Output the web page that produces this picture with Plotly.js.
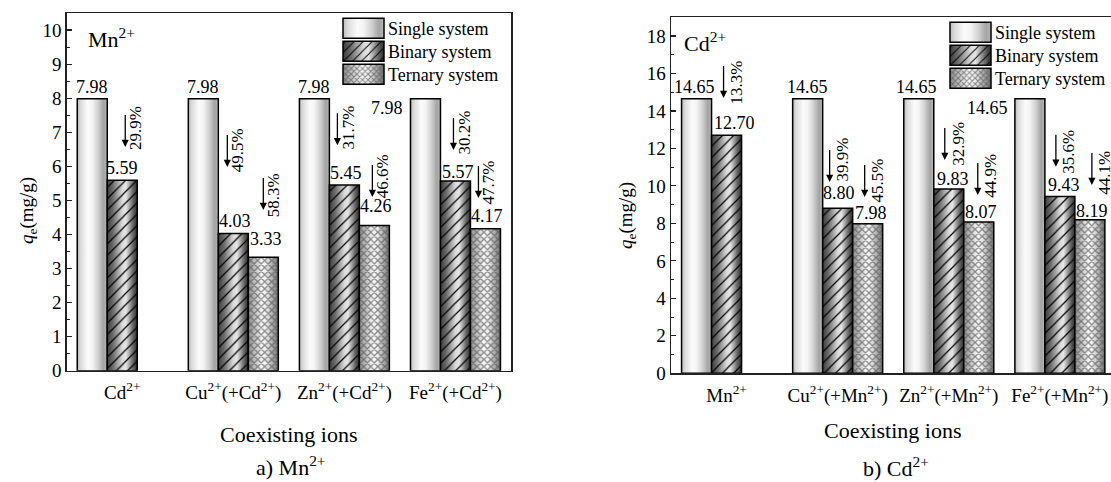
<!DOCTYPE html>
<html><head><meta charset="utf-8">
<script src="https://cdn.plot.ly/plotly-3.0.1.min.js"></script>
<style>html,body{margin:0;padding:0;background:#fff;overflow:hidden}#chart{width:1111px;height:482px}</style>
</head><body><div id="chart"></div>
<script>
// ---------- data ----------
const seriesNames = ['Single system', 'Binary system', 'Ternary system'];

const catsMn = ['Cd<sup>2+</sup>', 'Cu<sup>2+</sup>(+Cd<sup>2+</sup>)', 'Zn<sup>2+</sup>(+Cd<sup>2+</sup>)', 'Fe<sup>2+</sup>(+Cd<sup>2+</sup>)'];
const singleMn  = [7.98, 7.98, 7.98, 7.98];
const binaryMn  = [5.59, 4.03, 5.45, 5.57];
const ternaryMn = [null, 3.33, 4.26, 4.17];
const dropBinMn = ['29.9%', '49.5%', '31.7%', '30.2%'];
const dropTerMn = [null, '58.3%', '46.6%', '47.7%'];

const catsCd = ['Mn<sup>2+</sup>', 'Cu<sup>2+</sup>(+Mn<sup>2+</sup>)', 'Zn<sup>2+</sup>(+Mn<sup>2+</sup>)', 'Fe<sup>2+</sup>(+Mn<sup>2+</sup>)'];
const singleCd  = [14.65, 14.65, 14.65, 14.65];
const binaryCd  = [12.70, 8.80, 9.83, 9.43];
const ternaryCd = [null, 7.98, 8.07, 8.19];
const dropBinCd = ['13.3%', '39.9%', '32.9%', '35.6%'];
const dropTerCd = [null, '45.5%', '44.9%', '44.1%'];

// ---------- layout helpers (positions, not data) ----------
const W = 1111, H = 482;
const F = '"Liberation Serif","Times New Roman",serif';
const px = x => x / W, py = y => 1 - y / H;
const OFF = [-0.27, 0, 0.27];           // slot offsets of the grouped bars
// arrow-head heights (axis units) and pixel nudges for the drop annotations
const arrowMn = {bin: [6.57, 5.98, 6.62, 6.48], ter: [null, 4.72, 5.10, 5.07],
                 binDx: [3, -6, -7, -2], terDx: [0, 0, -2, -7], ty: [[19,17,18,18],[0,15,21,16]]};
const arrowCd = {bin: [14.69, 10.21, 11.38, 11.02], ter: [null, 9.41, 9.52, 10.05],
                 binDx: [-3, -8, -4, -4], terDx: [0, -3, -1, 2], ty: [[15,22,16,15],[0,16,19,12]]};
const nudgeMn = {dx: [[0,0,0,0],[0,2,2,3],[0,3,2,2]], dy: [[0,0,0,0],[0,0,0,-3],[0,6,8,1]]};
const nudgeCd = {dx: [[-2,0,-2,0],[8,1,4,4],[0,3,2,2]], dy: [[0,0,0,0],[0,3,-2,0],[0,-1,-2,-3]]};

function bars(vals, cats, xa, ya, lg) {
  const st = [
    {color: '#e8e8e8'},
    {color: 'rgba(0,0,0,0)', pattern: {shape: '/', size: 8, solidity: 0.15, fgcolor: '#000', bgcolor: 'rgba(0,0,0,0)'}},
    {color: 'rgba(0,0,0,0)', pattern: {shape: 'x', size: 5, solidity: 0.45, fgcolor: '#5a5a5a', fgopacity: 0.7, bgcolor: 'rgba(0,0,0,0)'}}
  ];
  return vals.map((v, k) => ({
    type: 'bar', name: seriesNames[k], x: cats, y: v, xaxis: xa, yaxis: ya, legend: lg,
    marker: Object.assign({line: {color: '#000', width: 1.5}}, st[k]), hoverinfo: 'skip'
  }));
}

function labels(vals, drops, arrows, nudge, xr, yr, fsz) {
  const out = [];
  vals.forEach((arr, k) => arr.forEach((v, i) => {
    if (v === null) return;
    const txt = v.toFixed(2);
    if (k === 0 && i === 3) {
      out.push({xref: xr, yref: yr, x: i + OFF[0] - 0.135, y: v, text: txt, showarrow: false,
        xanchor: 'right', yanchor: 'middle', xshift: -5, yshift: -9, font: {family: F, size: 18, color: '#000'}});
    } else {
      out.push({xref: xr, yref: yr, x: i + OFF[k], y: v, text: txt, showarrow: false,
        xanchor: 'center', yanchor: 'bottom', xshift: nudge.dx[k][i], yshift: nudge.dy[k][i],
        font: {family: F, size: 18, color: '#000'}});
    }
  }));
  [['bin', 1, drops[0], 0], ['ter', 2, drops[1], 1]].forEach(([key, k, d, r]) => d.forEach((t, i) => {
    if (t === null) return;
    const hy = arrows[key][i], dx = arrows[key + 'Dx'][i];
    // arrow: tail box is a single space (tiny), so ay is lengthened by its half height
    out.push({xref: xr, yref: yr, x: i + OFF[k], y: hy, text: ' ', showarrow: true, ax: 0, ay: -38,
      font: {family: F, size: 10, color: '#000'}, borderpad: 0,
      xshift: dx, arrowhead: 2, arrowsize: 1.1, arrowwidth: 1.3, arrowcolor: '#000', standoff: 0, startstandoff: 0});
    out.push({xref: xr, yref: yr, x: i + OFF[k], y: hy, text: t, showarrow: false, textangle: -90,
      xanchor: 'center', yanchor: 'middle', xshift: dx + fsz, yshift: arrows.ty[r][i],
      font: {family: F, size: 17, color: '#000'}});
  }));
  return out;
}

const data = [].concat(
  bars([singleMn, binaryMn, ternaryMn], catsMn, 'x', 'y', 'legend'),
  bars([singleCd, binaryCd, ternaryCd], catsCd, 'x2', 'y2', 'legend2')
);

const axFont = {family: F, size: 19, color: '#000'};
const xCommon = {type: 'category', showline: true, linecolor: '#222', linewidth: 1.5, ticks: '',
  tickfont: axFont, showgrid: false, zeroline: false, fixedrange: true};
const yCommon = {ticks: 'inside', ticklen: 5, tickwidth: 1.2, tickcolor: '#222', showline: true,
  linecolor: '#222', linewidth: 1.5, showgrid: false, zeroline: false, tickfont: axFont, fixedrange: true};

const txt = (x, y, text, size, extra) => Object.assign({xref: 'paper', yref: 'paper', x: px(x), y: py(y),
  text: text, showarrow: false, font: {family: F, size: size, color: '#000'}, xanchor: 'center', yanchor: 'middle'}, extra || {});

const legendCommon = {bgcolor: 'rgba(0,0,0,0)', borderwidth: 0, font: {family: F, size: 18, color: '#000'},
  itemwidth: 41, traceorder: 'normal', xanchor: 'left', yanchor: 'top'};

const layout = {
  width: W, height: H, margin: {l: 0, r: 0, t: 0, b: 0, autoexpand: false}, paper_bgcolor: '#fff', plot_bgcolor: '#fff',
  barmode: 'group', bargap: 0.19, bargroupgap: 0, font: {family: F, color: '#000'},
  xaxis: Object.assign({}, xCommon, {domain: [px(66.7), px(511)], range: [-0.5, 3.5], anchor: 'y', mirror: true, ticklabelstandoff: 4}),
  yaxis: Object.assign({}, yCommon, {domain: [py(370.7), py(13)], range: [0, 10.5], dtick: 1, anchor: 'x', mirror: true,
    minor: {ticks: 'inside', ticklen: 3, dtick: 0.5, tickcolor: '#222', tickwidth: 1}}),
  xaxis2: Object.assign({}, xCommon, {domain: [px(671), 1], range: [-0.5, 3.46], anchor: 'y2', mirror: true, ticklabelstandoff: 4}),
  yaxis2: Object.assign({}, yCommon, {domain: [py(373.3), py(17.2)], range: [0, 19], dtick: 2, anchor: 'x2', mirror: false,
    minor: {ticks: 'inside', ticklen: 3, dtick: 1, tickcolor: '#222', tickwidth: 1}}),
  legend: Object.assign({}, legendCommon, {x: px(337), y: py(10)}),
  legend2: Object.assign({}, legendCommon, {x: px(944), y: py(14)}),
  annotations: [].concat(
    labels([singleMn, binaryMn, ternaryMn], [dropBinMn, dropTerMn], arrowMn, nudgeMn, 'x', 'y', 11),
    labels([singleCd, binaryCd, ternaryCd], [dropBinCd, dropTerCd], arrowCd, nudgeCd, 'x2', 'y2', 13),
    [
      txt(86, 38, 'Mn<sup>2+</sup>', 22, {xanchor: 'left'}),
      txt(682, 42, 'Cd<sup>2+</sup>', 22, {xanchor: 'left'}),
      txt(28, 211, '<i>q</i><sub>e</sub>(mg/g)', 19, {textangle: -90}),
      txt(627, 215, '<i>q</i><sub>e</sub>(mg/g)', 19, {textangle: -90}),
      txt(289, 434, 'Coexisting ions', 22),
      txt(893, 430, 'Coexisting ions', 22),
      txt(291, 466, 'a) Mn<sup>2+</sup>', 22),
      txt(896, 467, 'b) Cd<sup>2+</sup>', 22)
    ])
};

const gd = document.getElementById('chart');

// ---------- cosmetic: cylinder-like gradients and large legend swatches ----------
const NS = 'http://www.w3.org/2000/svg';
const gid = {'Single system': 'gSingle', 'Binary system': 'gBinary', 'Ternary system': 'gTernary'};
function ensureGradients() {
  if (document.getElementById('gSingle')) return;
  const svg = gd.querySelector('svg.main-svg');
  let defs = svg.querySelector('defs');
  if (!defs) { defs = document.createElementNS(NS, 'defs'); svg.insertBefore(defs, svg.firstChild); }
  function grad(id, stops) {
    const g = document.createElementNS(NS, 'linearGradient');
    g.setAttribute('id', id); g.setAttribute('x1', '0'); g.setAttribute('x2', '1');
    g.setAttribute('y1', '0'); g.setAttribute('y2', '0');
    stops.forEach(([o, c]) => { const s = document.createElementNS(NS, 'stop');
      s.setAttribute('offset', o); s.setAttribute('stop-color', c); g.appendChild(s); });
    defs.appendChild(g);
  }
  grad('gSingle', [[0, '#bdbdbd'], [0.12, '#dcdcdc'], [0.35, '#fbfbfb'], [0.5, '#f4f4f4'], [0.7, '#d0d0d0'], [0.88, '#a3a3a3'], [1, '#b8b8b8']]);
  grad('gBinary', [[0, '#3c3c3c'], [0.2, '#6e6e6e'], [0.5, '#d9d9d9'], [0.62, '#e6e6e6'], [0.85, '#6a6a6a'], [1, '#2a2a2a']]);
  grad('gTernary', [[0, '#8a8a8a'], [0.45, '#fafafa'], [0.6, '#f0f0f0'], [1, '#6d6d6d']]);
}
function paint(p, name) {
  const id = gid[name]; if (!id || p.getAttribute('data-dec')) return;
  p.setAttribute('data-dec', '1');
  if (name === 'Single system') { p.style.fill = 'url(#' + id + ')'; p.style.fillOpacity = 1; }
  else {
    const c = p.cloneNode(false);
    c.style.fill = 'url(#' + id + ')'; c.style.fillOpacity = 1; c.style.stroke = 'none';
    p.parentNode.insertBefore(c, p);
  }
}
function decorate() {
  try { ensureGradients(); } catch (e) { return; }
  gd.querySelectorAll('g.barlayer').forEach(layer => {
    layer.querySelectorAll('g.trace.bars').forEach((tg, idx) => {
      let name = null;
      try { name = tg.__data__[0].trace.name; } catch (e) {}
      if (!name) name = seriesNames[idx % 3];
      tg.querySelectorAll('g.point path').forEach(p => { try { paint(p, name); } catch (e) {} });
    });
  });
  // legends: group legend items by their container
  const groups = new Map();
  gd.querySelectorAll('g.scrollbox g.traces').forEach(it => {
    if (!it.querySelector('text')) return;
    const key = it.parentNode;
    if (!groups.has(key)) groups.set(key, []);
    groups.get(key).push(it);
  });
  groups.forEach(items => {
    let y0 = null;
    items.forEach((it, i) => {
      if (it.getAttribute('data-mv')) return;
      const m = /translate\(\s*([-\d.e]+)[ ,]+([-\d.e]+)\s*\)/.exec(it.getAttribute('transform') || '');
      if (!m) return;
      if (y0 === null) y0 = parseFloat(m[2]);
      it.setAttribute('transform', 'translate(' + m[1] + ',' + (y0 + i * 23) + ')');
      it.setAttribute('data-mv', '1');
    });
    items.forEach(it => {
      try {
        const t = it.querySelector('text');
        const p = it.querySelector('g.legendpoints path');
        if (!t || !p || p.getAttribute('data-sw')) return;
        const name = t.textContent.trim();
        const r1 = p.getBoundingClientRect(), r2 = t.getBoundingClientRect();
        const bb = p.getBBox();
        const cxl = bb.x + bb.width / 2, cyl = bb.y + bb.height / 2;
        const want = r2.left - 4 - 20.5;
        const cx = cxl + (want - (r1.left + r1.width / 2));
        p.setAttribute('d', 'M' + (cx - 20.5) + ',' + (cyl - 10) + 'h41v20h-41Z');
        p.setAttribute('data-sw', '1');
        p.style.stroke = '#000'; p.style.strokeWidth = '1.5px';
        paint(p, name);
      } catch (e) {}
    });
  });
}

Plotly.newPlot(gd, data, layout, {staticPlot: true, displayModeBar: false}).then(() => {
  decorate();
  gd.on && gd.on('plotly_afterplot', decorate);
  setTimeout(decorate, 50);
  setTimeout(decorate, 300);
});
</script>
</body></html>
